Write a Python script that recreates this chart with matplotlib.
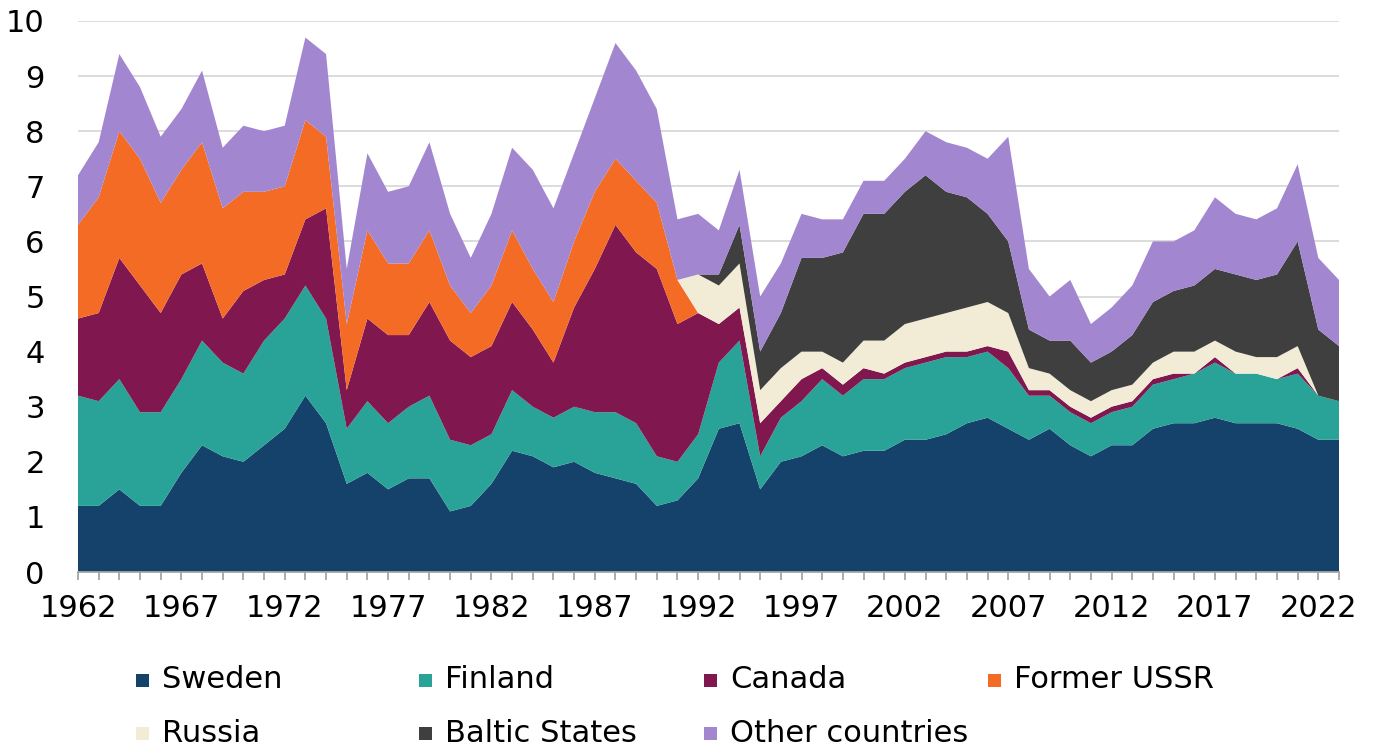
import matplotlib
matplotlib.use("Agg")
import matplotlib.pyplot as plt
from matplotlib.patches import Rectangle
from matplotlib.ticker import MultipleLocator
import numpy as np

years = list(range(1962, 2024))

sweden = [1.2, 1.2, 1.5, 1.2, 1.2, 1.8, 2.3, 2.1, 2.0, 2.3,
          2.6, 3.2, 2.7, 1.6, 1.8, 1.5, 1.7, 1.7, 1.1, 1.2,
          1.6, 2.2, 2.1, 1.9, 2.0, 1.8, 1.7, 1.6, 1.2, 1.3,
          1.7, 2.6, 2.7, 1.5, 2.0, 2.1, 2.3, 2.1, 2.2, 2.2,
          2.4, 2.4, 2.5, 2.7, 2.8, 2.6, 2.4, 2.6, 2.3, 2.1,
          2.3, 2.3, 2.6, 2.7, 2.7, 2.8, 2.7, 2.7, 2.7, 2.6,
          2.4, 2.4]
finland = [2.0, 1.9, 2.0, 1.7, 1.7, 1.7, 1.9, 1.7, 1.6, 1.9,
           2.0, 2.0, 1.9, 1.0, 1.3, 1.2, 1.3, 1.5, 1.3, 1.1,
           0.9, 1.1, 0.9, 0.9, 1.0, 1.1, 1.2, 1.1, 0.9, 0.7,
           0.8, 1.2, 1.5, 0.6, 0.8, 1.0, 1.2, 1.1, 1.3, 1.3,
           1.3, 1.4, 1.4, 1.2, 1.2, 1.1, 0.8, 0.6, 0.6, 0.6,
           0.6, 0.7, 0.8, 0.8, 0.9, 1.0, 0.9, 0.9, 0.8, 1.0,
           0.8, 0.7]
canada = [1.4, 1.6, 2.2, 2.3, 1.8, 1.9, 1.4, 0.8, 1.5, 1.1,
          0.8, 1.2, 2.0, 0.7, 1.5, 1.6, 1.3, 1.7, 1.8, 1.6,
          1.6, 1.6, 1.4, 1.0, 1.8, 2.6, 3.4, 3.1, 3.4, 2.5,
          2.2, 0.7, 0.6, 0.6, 0.3, 0.4, 0.2, 0.2, 0.2, 0.1,
          0.1, 0.1, 0.1, 0.1, 0.1, 0.3, 0.1, 0.1, 0.1, 0.1,
          0.1, 0.1, 0.1, 0.1, 0.0, 0.1, 0.0, 0.0, 0.0, 0.1,
          0.0, 0.0]
former_ussr = [1.7, 2.1, 2.3, 2.3, 2.0, 1.9, 2.2, 2.0, 1.8, 1.6,
               1.6, 1.8, 1.3, 1.2, 1.6, 1.3, 1.3, 1.3, 1.0, 0.8,
               1.1, 1.3, 1.1, 1.1, 1.2, 1.4, 1.2, 1.3, 1.2, 0.8,
               0.0, 0.0, 0.0, 0.0, 0.0, 0.0, 0.0, 0.0, 0.0, 0.0,
               0.0, 0.0, 0.0, 0.0, 0.0, 0.0, 0.0, 0.0, 0.0, 0.0,
               0.0, 0.0, 0.0, 0.0, 0.0, 0.0, 0.0, 0.0, 0.0, 0.0,
               0.0, 0.0]
russia = [0.0, 0.0, 0.0, 0.0, 0.0, 0.0, 0.0, 0.0, 0.0, 0.0,
          0.0, 0.0, 0.0, 0.0, 0.0, 0.0, 0.0, 0.0, 0.0, 0.0,
          0.0, 0.0, 0.0, 0.0, 0.0, 0.0, 0.0, 0.0, 0.0, 0.0,
          0.7, 0.7, 0.8, 0.6, 0.6, 0.5, 0.3, 0.4, 0.5, 0.6,
          0.7, 0.7, 0.7, 0.8, 0.8, 0.7, 0.4, 0.3, 0.3, 0.3,
          0.3, 0.3, 0.3, 0.4, 0.4, 0.3, 0.4, 0.3, 0.4, 0.4,
          0.0, 0.0]
baltic = [0.0, 0.0, 0.0, 0.0, 0.0, 0.0, 0.0, 0.0, 0.0, 0.0,
          0.0, 0.0, 0.0, 0.0, 0.0, 0.0, 0.0, 0.0, 0.0, 0.0,
          0.0, 0.0, 0.0, 0.0, 0.0, 0.0, 0.0, 0.0, 0.0, 0.0,
          0.0, 0.2, 0.7, 0.7, 1.0, 1.7, 1.7, 2.0, 2.3, 2.3,
          2.4, 2.6, 2.2, 2.0, 1.6, 1.3, 0.7, 0.6, 0.9, 0.7,
          0.7, 0.9, 1.1, 1.1, 1.2, 1.3, 1.4, 1.4, 1.5, 1.9,
          1.2, 1.0]
other = [0.9, 1.0, 1.4, 1.3, 1.2, 1.1, 1.3, 1.1, 1.2, 1.1,
         1.1, 1.5, 1.5, 1.0, 1.4, 1.3, 1.4, 1.6, 1.3, 1.0,
         1.3, 1.5, 1.8, 1.7, 1.6, 1.7, 2.1, 2.0, 1.7, 1.1,
         1.1, 0.8, 1.0, 1.0, 0.9, 0.8, 0.7, 0.6, 0.6, 0.6,
         0.6, 0.8, 0.9, 0.9, 1.0, 1.9, 1.1, 0.8, 1.1, 0.7,
         0.8, 0.9, 1.1, 0.9, 1.0, 1.3, 1.1, 1.1, 1.2, 1.4,
         1.3, 1.2]

labels = ["Sweden", "Finland", "Canada", "Former USSR",
          "Russia", "Baltic States", "Other countries"]
colors = ["#15426b", "#29a397", "#80174e", "#f36b25",
          "#f2ecd6", "#3f3f3f", "#a286cf"]

# Russia sits on top of Former USSR; the 1991 transition year has both
# bands touching (Russia starts at zero width there).
# Use the years with USSR ending 1991 and Russia beginning 1992.
russia[29] = 0.0

plt.rcParams["font.family"] = "DejaVu Sans"

fig = plt.figure(figsize=(13.79, 7.52), dpi=100)
W, H = 1379, 752
ax = fig.add_axes([78 / W, 1 - 572 / H, (1339 - 78) / W, (572 - 21) / H])

series = [sweden, finland, canada, former_ussr, russia, baltic, other]
ax.stackplot(years, *series, colors=colors, labels=labels,
             linewidth=0, zorder=2)

ax.set_xlim(1962, 2023)
ax.set_ylim(0, 10)
ax.set_yticks(range(0, 11))
ax.grid(axis="y", color="#d9d9d9", linewidth=1.3, zorder=0)
ax.set_axisbelow(True)

ax.xaxis.set_major_locator(MultipleLocator(5, offset=2))
ax.xaxis.set_minor_locator(MultipleLocator(1))
ax.tick_params(axis="x", which="both", direction="out", length=6,
               width=1.3, color="#a6a6a6", labelsize=22, pad=10)
ax.tick_params(axis="y", length=0, labelsize=22, pad=24)

for side in ["left", "right", "top"]:
    ax.spines[side].set_visible(False)
ax.spines["bottom"].set_color("#a6a6a6")
ax.spines["bottom"].set_linewidth(1.3)
ax.spines["bottom"].set_zorder(3)

# legend laid out in an even grid, row by row
col_x = [136, 419, 704, 988]
row_y = [680, 733]
sq = 13
for i, (lab, col) in enumerate(zip(labels, colors)):
    r, c = divmod(i, 4)
    x0, y0 = col_x[c], row_y[r]
    fig.patches.append(Rectangle((x0 / W, 1 - (y0 + sq / 2) / H), sq / W, sq / H,
                                 transform=fig.transFigure, facecolor=col,
                                 edgecolor="none"))
    fig.text((x0 + sq + 13) / W, 1 - y0 / H, lab, fontsize=22,
             va="center", ha="left")

fig.savefig("out.png", dpi=100)
